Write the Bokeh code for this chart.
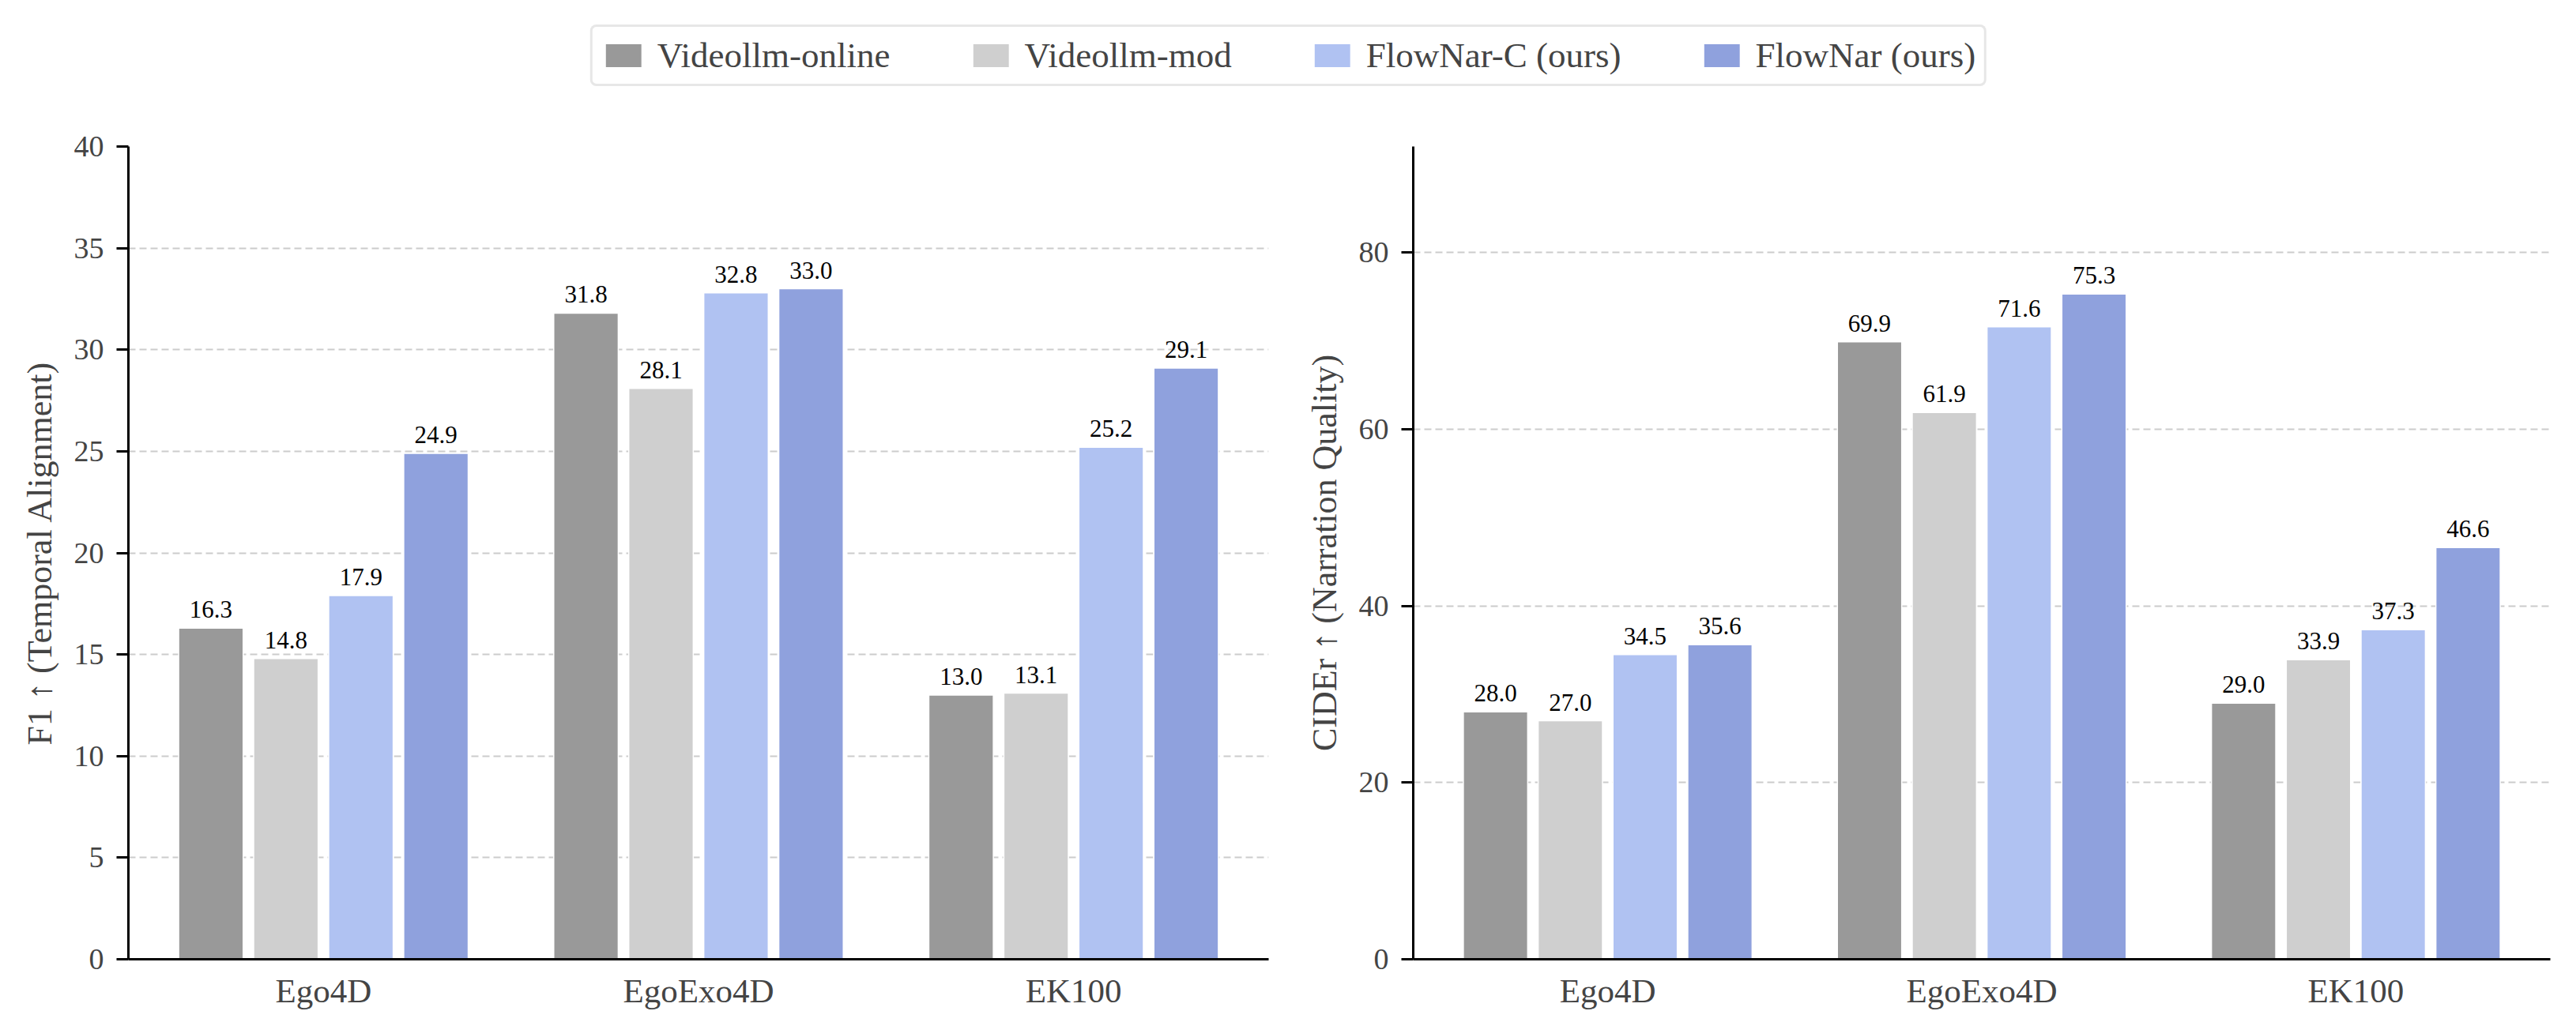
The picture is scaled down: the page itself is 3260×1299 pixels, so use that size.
from bokeh.plotting import figure
from bokeh.models import (ColumnDataSource, FactorRange, FixedTicker, Legend,
                          LegendItem, Range1d, LabelSet)
from bokeh.transform import dodge
from bokeh.layouts import column, row
from bokeh.embed import file_html
from bokeh.resources import INLINE

# ---------------- data ----------------
datasets = ["Ego4D", "EgoExo4D", "EK100"]
methods = ["Videollm-online", "Videollm-mod", "FlowNar-C (ours)", "FlowNar (ours)"]

f1_online = [16.3, 31.8, 13.0]
f1_mod = [14.8, 28.1, 13.1]
f1_flownar_c = [17.9, 32.8, 25.2]
f1_flownar = [24.9, 33.0, 29.1]

cider_online = [28.0, 69.9, 29.0]
cider_mod = [27.0, 61.9, 33.9]
cider_flownar_c = [34.5, 71.6, 37.3]
cider_flownar = [35.6, 75.3, 46.6]

f1_ticks = [0, 5, 10, 15, 20, 25, 30, 35, 40]
cider_ticks = [0, 20, 40, 60, 80]

f1_label = "F1 \u2191 (Temporal Alignment)"
cider_label = "CIDEr \u2191 (Narration Quality)"

# ---------------- style ----------------
colors = ["#999999", "#cfcfcf", "#b0c2f2", "#8fa1dd"]
offsets = [-0.3, -0.1, 0.1, 0.3]
FONT = "Liberation Serif"


def make_panel(series, ticks, y_end, ylabel, width, left, right):
    p = figure(width=width, height=1159,
               x_range=FactorRange(factors=datasets, range_padding=0.0133),
               y_range=Range1d(0, y_end),
               toolbar_location=None, output_backend="svg",
               min_border_left=left, min_border_right=right,
               min_border_top=45, min_border_bottom=85)
    p.outline_line_color = None
    p.background_fill_color = "white"
    p.border_fill_color = "white"

    for vals, col, off in zip(series, colors, offsets):
        src = ColumnDataSource(dict(ds=datasets, v=vals,
                                    lab=[f"{v:.1f}" for v in vals]))
        xs = dodge("ds", off, range=p.x_range)
        p.vbar(x=xs, top="v", width=0.172, bottom=0, source=src,
               fill_color=col, line_color="white", line_width=1.5)
        p.add_layout(LabelSet(x=xs, y="v", text="lab", source=src,
                              text_align="center", text_baseline="bottom",
                              y_offset=13, text_font=FONT,
                              text_font_size="31px", text_color="black"))

    p.xgrid.visible = False
    p.ygrid.grid_line_color = "#cccccc"
    p.ygrid.grid_line_width = 2
    p.ygrid.grid_line_dash = "9 5"
    p.ygrid.ticker = FixedTicker(ticks=ticks)

    ya = p.yaxis[0]
    ya.ticker = FixedTicker(ticks=ticks)
    ya.axis_line_width = 3
    ya.axis_line_color = "black"
    ya.major_tick_line_width = 3
    ya.major_tick_out = 15
    ya.major_tick_in = 0
    ya.minor_tick_line_color = None
    ya.major_label_text_font = FONT
    ya.major_label_text_font_size = "38px"
    ya.major_label_standoff = 16
    ya.axis_label = ylabel
    ya.axis_label_text_font = FONT
    ya.axis_label_text_font_size = "44px"
    ya.axis_label_text_font_style = "normal"
    ya.axis_label_standoff = 16

    xa = p.xaxis[0]
    xa.axis_line_width = 3
    xa.axis_line_color = "black"
    xa.major_tick_out = 0
    xa.major_tick_in = 0
    xa.major_tick_line_color = None
    xa.minor_tick_line_color = None
    xa.major_label_text_font = FONT
    xa.major_label_text_font_size = "43px"
    xa.major_label_standoff = 16
    return p


p1 = make_panel([f1_online, f1_mod, f1_flownar_c, f1_flownar], f1_ticks, 40,
                f1_label, 1640, 162, 35)
p2 = make_panel([cider_online, cider_mod, cider_flownar_c, cider_flownar],
                cider_ticks, 92, cider_label, 1620, 148, 33)

# ---------------- legend strip ----------------
lf = figure(width=3260, height=140, x_range=(0, 1), y_range=(0, 1),
            toolbar_location=None, output_backend="svg", min_border=0)
lf.axis.visible = False
lf.grid.visible = False
lf.outline_line_color = None
items = []
for m, c in zip(methods, colors):
    # placeholder bar outside the visible range, only used for the legend swatch
    r = lf.vbar(x=[-10], top=[-9], bottom=[-10], width=0.1, fill_color=c,
                line_color="white", line_width=1.5)
    items.append(LegendItem(label=m, renderers=[r]))
leg = Legend(items=items, orientation="horizontal", location="center",
             label_text_font=FONT, label_text_font_size="45px",
             glyph_width=58, glyph_height=38, label_standoff=14,
             spacing=98, padding=10, margin=0,
             border_line_color="#d0d0d0", border_line_width=3,
             background_fill_color="white", background_fill_alpha=1.0)
try:
    leg.border_radius = 8
except Exception:
    pass
lf.add_layout(leg, "center")

layout = column(lf, row(p1, p2))
open("out.html", "w").write(file_html(layout, INLINE))
